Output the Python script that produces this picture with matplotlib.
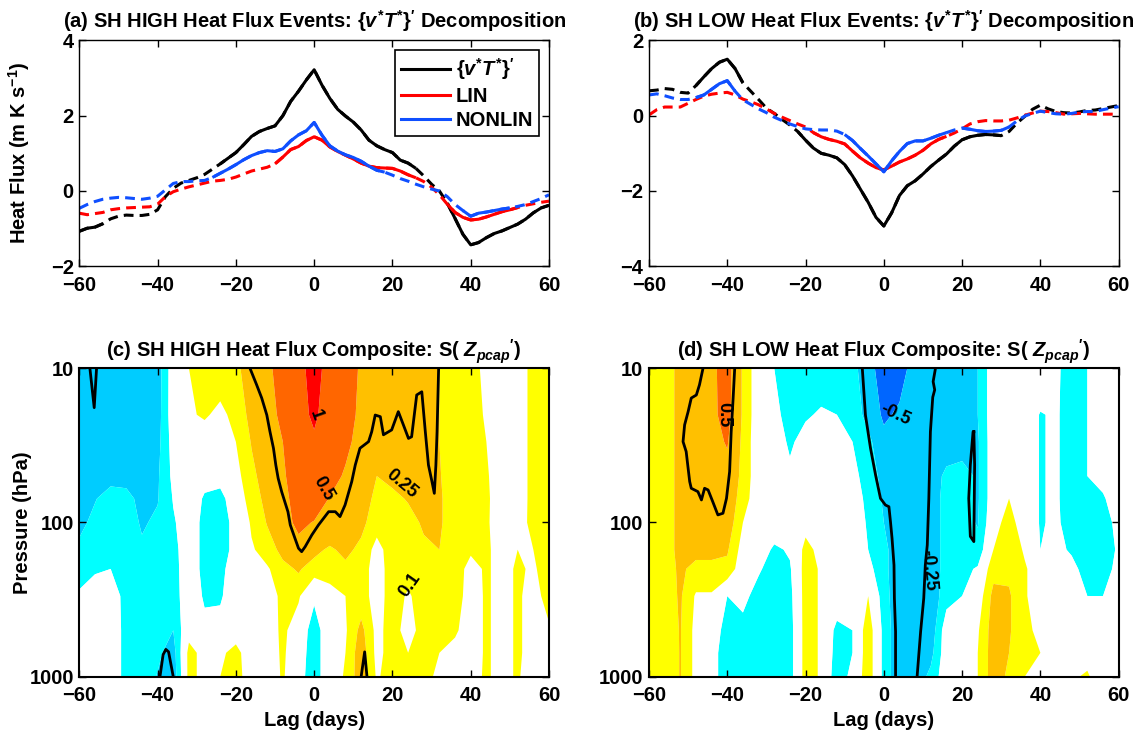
import numpy as np
import matplotlib
matplotlib.use('Agg')
import matplotlib.pyplot as plt
from matplotlib.colors import ListedColormap, BoundaryNorm
from matplotlib.lines import Line2D
from matplotlib.ticker import NullLocator

plt.rcParams['font.family'] = 'Liberation Sans'
plt.rcParams['font.weight'] = 'bold'
plt.rcParams['axes.labelweight'] = 'bold'
plt.rcParams['axes.titleweight'] = 'bold'
plt.rcParams['mathtext.fontset'] = 'custom'
plt.rcParams['mathtext.rm'] = 'Liberation Sans:bold'
plt.rcParams['mathtext.it'] = 'Liberation Sans:italic:bold'
plt.rcParams['mathtext.bf'] = 'Liberation Sans:bold'

# ---- heat flux time series (lag every 2 days) ----
lag = np.arange(-60, 61, 2)

a_total = [-1.07, -0.99, -0.96, -0.87, -0.74, -0.67, -0.64, -0.65, -0.65, -0.62, -0.5,
           -0.15, 0.07, 0.21, 0.28, 0.35, 0.44, 0.58, 0.72, 0.87, 1.02, 1.23, 1.45, 1.58,
           1.66, 1.73, 2.0, 2.38, 2.65, 2.95, 3.22, 2.81, 2.46, 2.17, 1.99, 1.83, 1.62,
           1.35, 1.2, 1.1, 1.02, 0.82, 0.74, 0.6, 0.4, 0.18, 0.0, -0.32, -0.73, -1.15,
           -1.43, -1.37, -1.24, -1.13, -1.06, -0.97, -0.88, -0.75, -0.58, -0.45, -0.38]
a_lin = [-0.59, -0.63, -0.6, -0.57, -0.5, -0.47, -0.45, -0.44, -0.43, -0.42, -0.35,
         -0.15, -0.02, 0.05, 0.11, 0.16, 0.21, 0.26, 0.28, 0.31, 0.37, 0.45, 0.53, 0.58,
         0.63, 0.72, 0.9, 1.1, 1.18, 1.34, 1.44, 1.35, 1.17, 1.05, 0.95, 0.85, 0.74,
         0.66, 0.62, 0.61, 0.6, 0.53, 0.43, 0.35, 0.25, 0.1, -0.1, -0.35, -0.57, -0.7,
         -0.77, -0.75, -0.69, -0.62, -0.55, -0.5, -0.44, -0.38, -0.34, -0.3, -0.27]
a_nonlin = [-0.46, -0.36, -0.28, -0.22, -0.19, -0.17, -0.18, -0.2, -0.22, -0.19, -0.14,
            0.03, 0.2, 0.25, 0.25, 0.27, 0.28, 0.36, 0.47, 0.58, 0.7, 0.83, 0.94, 1.02,
            1.07, 1.05, 1.12, 1.33, 1.49, 1.6, 1.82, 1.48, 1.2, 1.06, 0.96, 0.89, 0.79,
            0.66, 0.55, 0.5, 0.42, 0.33, 0.26, 0.18, 0.11, 0.05, 0.0, -0.15, -0.36, -0.52,
            -0.67, -0.59, -0.56, -0.52, -0.48, -0.45, -0.41, -0.36, -0.28, -0.2, -0.1]

b_total = [0.66, 0.68, 0.72, 0.7, 0.62, 0.6, 0.8, 1.03, 1.25, 1.42, 1.5, 1.25, 0.87,
           0.65, 0.43, 0.2, 0.06, -0.1, -0.25, -0.42, -0.65, -0.86, -1.0, -1.05, -1.12,
           -1.3, -1.6, -1.95, -2.3, -2.7, -2.93, -2.58, -2.12, -1.86, -1.73, -1.55, -1.35,
           -1.18, -1.02, -0.81, -0.64, -0.56, -0.52, -0.5, -0.51, -0.53, -0.42, -0.2,
           -0.02, 0.17, 0.28, 0.18, 0.11, 0.08, 0.07, 0.1, 0.14, 0.15, 0.19, 0.23, 0.27]
b_lin = [0.02, 0.16, 0.23, 0.23, 0.23, 0.33, 0.43, 0.52, 0.57, 0.6, 0.62, 0.55, 0.44,
         0.37, 0.29, 0.18, 0.06, -0.04, -0.13, -0.22, -0.3, -0.45, -0.56, -0.63, -0.68,
         -0.75, -0.94, -1.12, -1.26, -1.38, -1.44, -1.34, -1.23, -1.15, -1.05, -0.92,
         -0.75, -0.63, -0.55, -0.46, -0.35, -0.22, -0.16, -0.13, -0.14, -0.14, -0.12,
         -0.06, 0.01, 0.07, 0.12, 0.11, 0.08, 0.04, 0.05, 0.06, 0.05, 0.04, 0.04, 0.04, 0.04]
b_nonlin = [0.55, 0.58, 0.53, 0.47, 0.43, 0.43, 0.48, 0.55, 0.7, 0.85, 0.93, 0.65, 0.42,
            0.3, 0.18, 0.08, -0.04, -0.13, -0.22, -0.29, -0.35, -0.37, -0.38, -0.38,
            -0.41, -0.5, -0.66, -0.87, -1.07, -1.28, -1.49, -1.2, -0.95, -0.74, -0.67,
            -0.67, -0.6, -0.52, -0.45, -0.38, -0.33, -0.36, -0.4, -0.42, -0.41, -0.39,
            -0.3, -0.14, -0.01, 0.06, 0.12, 0.08, 0.05, 0.04, 0.06, 0.1, 0.11, 0.11, 0.16,
            0.2, 0.24]

# lag ranges where each curve is drawn solid (significant)
a_total_sig = [(-60, -54), (-24, 26), (34, 60)]
a_lin_sig = [(-10, 26), (34, 52)]
a_nonlin_sig = [(-26, 18), (38, 50)]
b_total_sig = [(-48, -36), (-22, 30)]
b_lin_sig = [(-18, 16)]
b_nonlin_sig = [(-48, -38), (-10, 16), (20, 32)]

# ---- polar-cap height composites (columns = lag every 4 days) ----
lag_c = np.arange(-60, 61, 4)
pres = [10, 20, 30, 50, 70, 100, 150, 200, 300, 500, 700, 1000]

high_cols = [
    [-0.37, -0.37, -0.37, -0.37, -0.35, -0.3, -0.2, -0.15, -0.08, 0, 0, 0],
    [-0.37, -0.37, -0.37, -0.37, -0.26, -0.2, -0.17, -0.12, 0, 0, 0, 0],
    [-0.37, -0.37, -0.37, -0.3, -0.18, -0.17, -0.15, -0.1, -0.02, 0, 0, 0],
    [-0.37, -0.37, -0.37, -0.3, -0.2, -0.17, -0.17, -0.17, -0.15, -0.15, -0.15, -0.15],
    [-0.37, -0.37, -0.37, -0.35, -0.3, -0.27, -0.22, -0.17, -0.17, -0.17, -0.17, -0.17],
    [-0.33, -0.32, -0.3, -0.27, -0.26, -0.22, -0.17, -0.17, -0.17, -0.18, -0.22, -0.26],
    [0, 0, -0.03, -0.06, -0.09, -0.12, -0.15, -0.16, -0.17, -0.25, -0.32, -0.35],
    [0.1, 0.08, 0, 0, 0, 0, 0, 0, 0, 0.05, 0.15, 0.15],
    [0.17, 0.12, 0, -0.05, -0.12, -0.15, -0.15, -0.15, -0.12, -0.05, 0.05, 0.05],
    [0.17, 0.06, 0, -0.05, -0.15, -0.17, -0.17, -0.15, -0.12, -0.03, 0.07, 0.1],
    [0.2, 0.15, 0.1, 0.05, 0, -0.05, -0.05, 0, 0, 0.03, 0.15, 0.17],
    [0.37, 0.3, 0.26, 0.2, 0.17, 0.12, 0.08, 0, 0, 0, 0, 0],
    [0.45, 0.42, 0.4, 0.35, 0.3, 0.26, 0.17, 0.08, 0, 0, 0, 0],
    [0.6, 0.55, 0.5, 0.45, 0.4, 0.37, 0.3, 0.2, 0.15, 0.14, 0.13, 0.12],
    [0.8, 0.8, 0.75, 0.7, 0.65, 0.58, 0.37, 0.27, 0.12, 0, -0.03, -0.05],
    [1.25, 1.1, 0.9, 0.8, 0.7, 0.48, 0.3, 0.17, -0.08, -0.17, -0.17, -0.17],
    [0.75, 0.72, 0.7, 0.65, 0.48, 0.4, 0.22, 0.17, 0.03, 0, 0, 0],
    [0.7, 0.65, 0.58, 0.45, 0.4, 0.37, 0.3, 0.2, 0.1, 0.08, 0.1, 0.12],
    [0.45, 0.42, 0.38, 0.37, 0.35, 0.3, 0.2, 0.17, 0.17, 0.3, 0.35, 0.35],
    [0.4, 0.37, 0.35, 0.25, 0.2, 0.15, 0.05, 0.03, 0.03, 0.05, 0.05, 0.08],
    [0.4, 0.37, 0.33, 0.28, 0.22, 0.17, 0.17, 0.17, 0.17, 0.17, 0.17, 0.17],
    [0.4, 0.38, 0.35, 0.3, 0.26, 0.2, 0.17, 0.15, 0.08, 0.03, 0.1, 0.17],
    [0.4, 0.4, 0.38, 0.35, 0.3, 0.27, 0.22, 0.17, 0.17, 0.17, 0.17, 0.17],
    [0.25, 0.25, 0.25, 0.26, 0.27, 0.27, 0.25, 0.2, 0.17, 0.15, 0.1, 0.05],
    [0.17, 0.17, 0.17, 0.17, 0.17, 0.17, 0.17, 0.17, 0.17, 0.12, 0.05, 0.03],
    [0.17, 0.17, 0.17, 0.17, 0.17, 0.15, 0.12, 0.05, 0.03, 0.03, 0.03, 0.05],
    [0.05, 0.08, 0.1, 0.12, 0.13, 0.12, 0.12, 0.12, 0.12, 0.12, 0.12, 0.12],
    [0, 0, 0, 0, 0, 0.02, 0.05, 0.05, 0.05, 0.05, 0.05, 0.05],
    [0.05, 0.05, 0.05, 0.05, 0.05, 0.07, 0.1, 0.12, 0.12, 0.12, 0.12, 0.12],
    [0.13, 0.13, 0.13, 0.13, 0.13, 0.12, 0.1, 0.08, 0.05, 0.05, 0.05, 0],
    [0.17, 0.17, 0.17, 0.17, 0.17, 0.17, 0.17, 0.17, 0.15, 0.08, 0.05, 0.05],
]

low_cols = [
    [0.17, 0.17, 0.17, 0.17, 0.17, 0.17, 0.17, 0.17, 0.17, 0.17, 0.17, 0.15],
    [0.17, 0.17, 0.17, 0.17, 0.17, 0.17, 0.17, 0.17, 0.17, 0.15, 0.12, 0.12],
    [0.3, 0.3, 0.3, 0.3, 0.3, 0.3, 0.3, 0.28, 0.27, 0.26, 0.26, 0.26],
    [0.37, 0.37, 0.37, 0.37, 0.37, 0.35, 0.3, 0.2, 0.08, 0.05, 0.05, 0.05],
    [0.45, 0.45, 0.42, 0.37, 0.37, 0.35, 0.3, 0.2, 0.08, 0, -0.05, -0.05],
    [0.6, 0.58, 0.52, 0.4, 0.37, 0.35, 0.27, 0.2, -0.1, -0.17, -0.17, -0.17],
    [0.22, 0.22, 0.2, 0.2, 0.17, 0.1, 0.03, 0, -0.05, -0.17, -0.17, -0.17],
    [0, 0, 0, 0, 0, 0, 0, -0.08, -0.17, -0.17, -0.17, -0.17],
    [-0.1, -0.05, 0, 0, 0, 0, -0.13, -0.17, -0.17, -0.17, -0.17, -0.17],
    [-0.2, -0.17, -0.13, -0.05, 0, 0, -0.08, -0.12, -0.15, -0.17, -0.17, -0.17],
    [-0.17, -0.12, -0.03, 0, 0, 0.05, 0.15, 0.17, 0.17, 0.17, 0.17, 0.17],
    [-0.17, -0.08, 0, 0, 0, 0, 0.05, 0.08, 0.08, 0.08, 0.08, 0.08],
    [-0.17, -0.1, -0.05, 0, 0, 0, 0, 0, 0, -0.15, -0.17, -0.2],
    [-0.2, -0.17, -0.1, -0.05, 0, 0, 0, 0, 0, -0.1, -0.1, -0.05],
    [-0.35, -0.3, -0.2, -0.17, -0.15, -0.12, -0.1, -0.05, 0.1, 0.2, 0.2, 0.2],
    [-0.7, -0.55, -0.4, -0.3, -0.27, -0.25, -0.2, -0.2, -0.18, -0.15, -0.15, -0.15],
    [-0.6, -0.45, -0.4, -0.37, -0.37, -0.37, -0.37, -0.37, -0.37, -0.37, -0.37, -0.37],
    [-0.4, -0.37, -0.37, -0.37, -0.37, -0.37, -0.37, -0.37, -0.37, -0.37, -0.37, -0.37],
    [-0.37, -0.37, -0.37, -0.37, -0.37, -0.37, -0.37, -0.37, -0.37, -0.35, -0.3, -0.2],
    [-0.37, -0.37, -0.35, -0.2, -0.17, -0.17, -0.17, -0.17, -0.15, 0, 0, 0],
    [-0.37, -0.35, -0.3, -0.2, -0.2, -0.2, -0.17, -0.15, -0.1, 0, 0, 0],
    [-0.25, -0.25, -0.27, -0.27, -0.27, -0.26, -0.2, -0.08, 0, 0.08, 0.1, 0.1],
    [0, 0, 0, 0, 0, 0.03, 0.1, 0.2, 0.3, 0.33, 0.33, 0.33],
    [0, 0, 0, 0, 0.1, 0.17, 0.2, 0.22, 0.27, 0.27, 0.25, 0.22],
    [0, 0, 0, 0, 0, 0, 0.08, 0.12, 0.12, 0.12, 0.12, 0.1],
    [0, -0.11, -0.11, -0.11, -0.11, -0.11, -0.1, 0, 0, 0.08, 0.1, 0.1],
    [-0.08, -0.08, -0.08, -0.08, -0.08, -0.08, -0.06, -0.03, 0, 0.05, 0.05, 0.05],
    [-0.15, -0.17, -0.17, -0.17, -0.17, -0.15, -0.12, -0.05, 0, 0, 0, 0.08],
    [-0.1, -0.1, -0.1, -0.1, -0.1, -0.15, -0.17, -0.17, -0.1, 0, 0.05, 0.12],
    [0, 0, 0, -0.05, -0.12, -0.17, -0.17, -0.17, -0.1, 0, 0, 0],
    [0, 0, 0, 0, 0, -0.05, -0.08, -0.05, 0, 0, 0, 0],
]

# significance outlines (lag, pressure)
high_sig = [
    ([-57.3, -56.2, -55.6], [10, 18, 10]),
    ([-39.4, -38.6, -37.9, -37.2, -36.0], [1000, 720, 665, 690, 1000]),
    ([12.0, 12.9, 13.5], [1000, 690, 1000]),
    ([-16.4, -14.7, -13.4, -12.1, -11.3, -10.4, -9.8, -9.2, -8.3, -7.5, -6.7, -6.1, -4.9,
      -4.0, -3.2, -2.3, -0.6, 1.1, 3.7, 5.4, 6.6, 7.9, 9.6, 10.5, 11.7, 13.9, 14.7, 15.6,
      16.9, 17.7, 19.0, 19.8, 21.5, 22.8, 24.1, 24.9, 26.2, 27.5, 28.4, 29.2, 30.1, 30.7,
      31.1, 31.4, 31.8],
     [10, 12.8, 15.6, 20.1, 25.7, 33.0, 42.4, 51.7, 63.2, 73.4, 85.2, 103.8, 126.8, 147,
      154.6, 143.5, 120.5, 103.8, 85.1, 85.1, 91.6, 76.9, 54.3, 42.4, 33.0, 29.9, 25.8,
      20.1, 20.6, 27.0, 25.8, 25.1, 19.1, 23.3, 28.5, 27.8, 14.9, 14.2, 25.8, 42.4, 54.3,
      64.7, 42.4, 25.8, 10]),
]
low_sig = [
    ([-46.2, -47.1, -47.9, -49.2, -50.0, -50.9, -51.3, -50.5, -50.0, -49.6, -49.2, -47.5,
      -46.6, -45.8, -44.9, -43.7, -42.4, -41.1, -40.2, -39.4, -39.0, -38.5, -38.1],
     [10, 12.8, 14.9, 15.6, 19.1, 23.3, 29.9, 34.7, 44.6, 54.3, 60.0, 63.1, 71.4, 60.0,
      61.5, 73.4, 89.3, 87.1, 69.8, 46.8, 25.8, 15.6, 10]),
    ([-5.5, -4.7, -3.4, -2.1, -0.85, 0.4, 1.3, 1.7, 2.1, 2.6, 2.7, 3.0, 3.0],
     [10, 20.1, 33.0, 49.3, 69.8, 77.0, 79.0, 98.9, 126.8, 189, 310, 510, 1000]),
    ([13.2, 12.6, 13.0, 12.5, 11.9, 11.5, 11.1, 10.6, 10.2, 9.4, 8.5],
     [10, 12.2, 13.8, 15.4, 25.8, 69.8, 140, 189, 310, 510, 1000]),
    ([23.0, 23.2, 23.0, 22.1, 21.7, 22.1, 22.8, 23.0],
     [25.8, 42.4, 133, 123, 69.8, 42.4, 25.8, 25.8]),
]

high_labels = [('1', 0.3, 20, -70), ('0.5', 2.4, 60, -60), ('0.25', 22.4, 56, -40),
               ('0.1', 24.5, 254, 55)]
low_labels = [('0.5', -40.8, 20, -90), ('-0.5', 3.0, 20, -25), ('-0.25', 11.5, 203, -85)]

levels = [-2, -1, -0.5, -0.25, -0.1, 0.1, 0.25, 0.5, 1, 2]
colors = ['#0000FF', '#0066FF', '#00CCFF', '#00FFFF', '#FFFFFF',
          '#FFFF00', '#FFC000', '#FF6600', '#FF0000']
cmap = ListedColormap(colors)
norm = BoundaryNorm(levels, cmap.N)

FS = 14.5
LW = 2.2
DASH = (0, (3.2, 2.0))

fig = plt.figure(figsize=(11.35, 7.37), dpi=100)
ax_a = fig.add_axes([0.0699, 0.6387, 0.4138, 0.3065])
ax_b = fig.add_axes([0.5718, 0.6387, 0.4138, 0.3065])
ax_c = fig.add_axes([0.0699, 0.0818, 0.4138, 0.4185])
ax_d = fig.add_axes([0.5718, 0.0818, 0.4138, 0.4185])


def draw_series(ax, y, color, spans):
    y = np.asarray(y)
    ax.plot(lag, y, color=color, lw=LW, ls=DASH)
    for s, e in spans:
        m = (lag >= s) & (lag <= e)
        ax.plot(lag[m], y[m], color=color, lw=LW, solid_capstyle='butt')


def style_axes(ax, lw):
    for sp in ax.spines.values():
        sp.set_linewidth(lw)
    ax.tick_params(direction='in', top=True, right=True, length=5, width=1,
                   labelsize=FS)
    ax.tick_params(axis='x', pad=7)
    ax.tick_params(axis='y', pad=4)
    ax.set_xlim(-60, 60)
    ax.set_xticks([-60, -40, -20, 0, 20, 40, 60])


for ax, tot, lin, non, sigs in [
        (ax_a, a_total, a_lin, a_nonlin, (a_total_sig, a_lin_sig, a_nonlin_sig)),
        (ax_b, b_total, b_lin, b_nonlin, (b_total_sig, b_lin_sig, b_nonlin_sig))]:
    draw_series(ax, tot, 'black', sigs[0])
    draw_series(ax, lin, '#FF0000', sigs[1])
    draw_series(ax, non, '#0F4FFF', sigs[2])
    style_axes(ax, 1.0)

ax_a.set_ylim(-2, 4)
ax_a.set_yticks([-2, 0, 2, 4])
ax_b.set_ylim(-4, 2)
ax_b.set_yticks([-4, -2, 0, 2])

ax_a.set_title(r'(a) SH HIGH Heat Flux Events: $\{v^{*}T^{*}\}^{\prime}$ Decomposition',
               fontsize=FS, pad=9)
ax_b.set_title(r'(b) SH LOW Heat Flux Events: $\{v^{*}T^{*}\}^{\prime}$ Decomposition',
               fontsize=FS, pad=9)
ax_a.set_ylabel(r'Heat Flux (m K s$^{-1}$)', fontsize=FS)
ax_a.yaxis.set_label_coords(-0.1, 0.5)

handles = [Line2D([], [], color='black', lw=LW),
           Line2D([], [], color='#FF0000', lw=LW),
           Line2D([], [], color='#0F4FFF', lw=LW)]
leg = ax_a.legend(handles, [r'$\{v^{*}T^{*}\}^{\prime}$', 'LIN', 'NONLIN'],
                  loc='upper right', bbox_to_anchor=(0.979, 0.958), fontsize=FS,
                  fancybox=False, framealpha=1, edgecolor='black', handlelength=2.4,
                  handletextpad=0.3, labelspacing=0.25, borderpad=0.3,
                  borderaxespad=0)
leg.get_frame().set_linewidth(1.2)

for ax, cols, sig, labels, ttl in [
        (ax_c, high_cols, high_sig, high_labels,
         r'(c) SH HIGH Heat Flux Composite: S( $Z_{pcap}{}^{\prime}$)'),
        (ax_d, low_cols, low_sig, low_labels,
         r'(d) SH LOW Heat Flux Composite: S( $Z_{pcap}{}^{\prime}$)')]:
    z = np.array(cols).T
    ax.contourf(lag_c, pres, z, levels=levels, cmap=cmap, norm=norm, antialiased=True)
    for xs, ps in sig:
        ax.plot(xs, ps, color='black', lw=2.0)
    for txt, x, p, rot in labels:
        ax.text(x, p, txt, fontsize=13, rotation=rot, ha='center', va='center',
                rotation_mode='anchor')
    ax.set_yscale('log')
    ax.set_ylim(1000, 10)
    ax.set_yticks([10, 100, 1000])
    ax.set_yticklabels(['10', '100', '1000'])
    ax.yaxis.set_minor_locator(NullLocator())
    style_axes(ax, 1.5)
    ax.set_xlabel('Lag (days)', fontsize=FS)
    ax.xaxis.set_label_coords(0.5, -0.112)
    ax.set_title(ttl, fontsize=FS, pad=8)

ax_c.set_ylabel('Pressure (hPa)', fontsize=FS)
ax_c.yaxis.set_label_coords(-0.1, 0.5)

fig.savefig('out.png', dpi=100)
